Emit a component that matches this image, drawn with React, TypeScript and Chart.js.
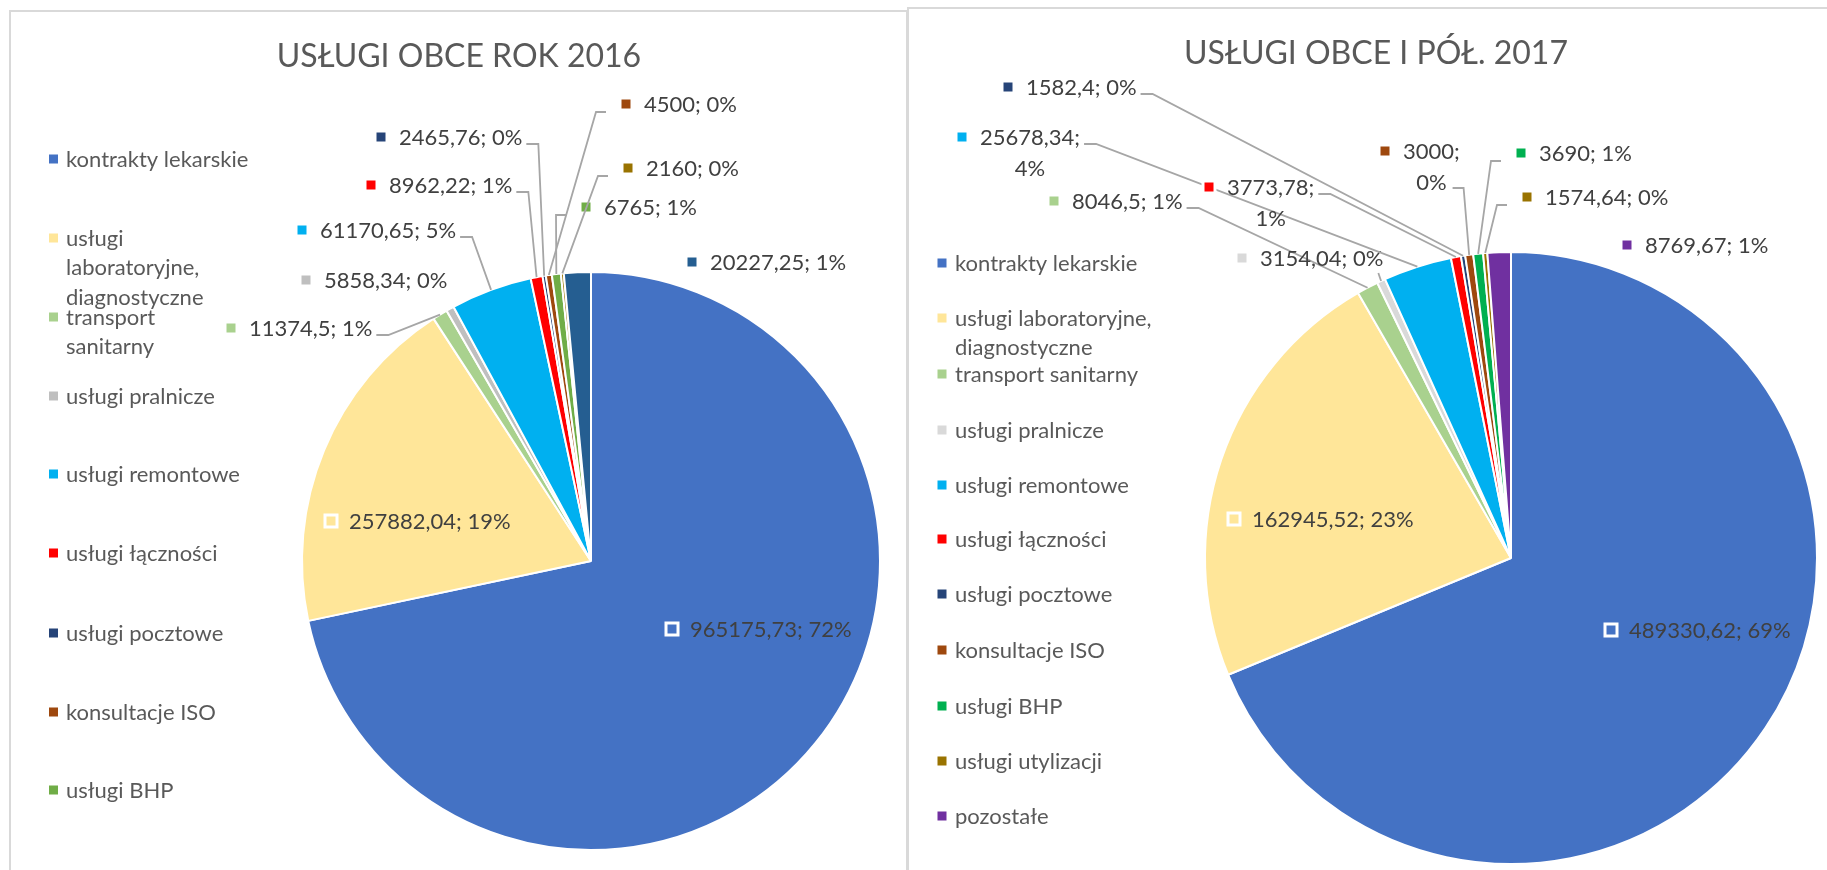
import React, { useEffect, useRef } from "react";
import { Chart, registerables } from "chart.js";

Chart.register(...registerables);

// ---------- DATA ----------
const categories = [
  "kontrakty lekarskie",
  "usługi laboratoryjne, diagnostyczne",
  "transport sanitarny",
  "usługi pralnicze",
  "usługi remontowe",
  "usługi łączności",
  "usługi pocztowe",
  "konsultacje ISO",
  "usługi BHP",
  "usługi utylizacji",
  "pozostałe",
];

const values2016 = [965175.73, 257882.04, 11374.5, 5858.34, 61170.65, 8962.22, 2465.76, 4500, 6765, 2160, 20227.25];
const percents2016 = ["72%", "19%", "1%", "0%", "5%", "1%", "0%", "0%", "1%", "0%", "1%"];

const values2017 = [489330.62, 162945.52, 8046.5, 3154.04, 25678.34, 3773.78, 1582.4, 3000, 3690, 1574.64, 8769.67];
const percents2017 = ["69%", "23%", "1%", "0%", "4%", "1%", "0%", "0%", "1%", "0%", "1%"];

const title2016 = "USŁUGI OBCE ROK 2016";
const title2017 = "USŁUGI OBCE I PÓŁ. 2017";

// ---------- STYLE / LAYOUT ----------
const colors2016 = ["#4472C4", "#FFE699", "#A9D18E", "#BFBFBF", "#00B0F0", "#FF0000", "#264478", "#9E480E", "#70AD47", "#997300", "#255E91"];
const colors2017 = ["#4472C4", "#FFE699", "#A9D18E", "#D9D9D9", "#00B0F0", "#FF0000", "#264478", "#9E480E", "#00B050", "#997300", "#7030A0"];

const FONT = "Lato, 'Open Sans', sans-serif";
const LABEL_SIZE = 22;
const LEGEND_SIZE = 22;
const TITLE_SIZE = 32;
const W = 1827;
const H = 870;

type LabelPos = { x: number; y: number; leader?: "r" | "r2" | "l" | "b"; wrap?: boolean };

const labels2016: LabelPos[] = [
  { x: 672, y: 629 },
  { x: 331, y: 521 },
  { x: 231, y: 328, leader: "r" },
  { x: 306, y: 280 },
  { x: 302, y: 230, leader: "r" },
  { x: 371, y: 185, leader: "r" },
  { x: 381, y: 137, leader: "r" },
  { x: 626, y: 104, leader: "l" },
  { x: 586, y: 207, leader: "l" },
  { x: 628, y: 168, leader: "l" },
  { x: 692, y: 262 },
];

const labels2017: LabelPos[] = [
  { x: 1611, y: 630 },
  { x: 1234, y: 519 },
  { x: 1054, y: 201, leader: "r" },
  { x: 1242, y: 258, leader: "b" },
  { x: 962, y: 137, leader: "r", wrap: true },
  { x: 1209, y: 187, leader: "r", wrap: true },
  { x: 1008, y: 87, leader: "r" },
  { x: 1385, y: 151, leader: "r2", wrap: true },
  { x: 1521, y: 153, leader: "l" },
  { x: 1527, y: 197, leader: "l" },
  { x: 1627, y: 245 },
];

type ChartCfg = {
  values: number[];
  percents: string[];
  colors: string[];
  title: string;
  titleX: number;
  titleY: number;
  labels: LabelPos[];
  legendCount: number;
  legendY: number[];
  legendWrap: (number[] | null)[];
  legendLineH: number;
  legendMarkerX: number;
  legendTextX: number;
  cx: number;
  cy: number;
  r: number;
};

const cfg2016: ChartCfg = {
  values: values2016,
  percents: percents2016,
  colors: colors2016,
  title: title2016,
  titleX: 459,
  titleY: 67,
  labels: labels2016,
  legendCount: 9,
  legendY: [159, 238, 317, 396, 474, 553, 633, 712, 790],
  legendWrap: [null, [1, 1, 1], [1, 1], null, null, null, null, null, null],
  legendLineH: 29.5,
  legendMarkerX: 53.5,
  legendTextX: 66,
  cx: 591,
  cy: 561,
  r: 289,
};

const cfg2017: ChartCfg = {
  values: values2017,
  percents: percents2017,
  colors: colors2017,
  title: title2017,
  titleX: 1376,
  titleY: 64,
  labels: labels2017,
  legendCount: 11,
  legendY: [263, 318, 374, 430, 485, 539, 594, 650, 706, 761, 816],
  legendWrap: [null, [2, 1], null, null, null, null, null, null, null, null, null],
  legendLineH: 29,
  legendMarkerX: 942,
  legendTextX: 955,
  cx: 1511,
  cy: 558,
  r: 306,
};

const fmt = (v: number) => String(v).replace(".", ",");

function wrapWords(name: string, counts: number[] | null): string[] {
  if (!counts) return [name];
  const words = name.split(" ");
  const out: string[] = [];
  let k = 0;
  for (const c of counts) {
    out.push(words.slice(k, k + c).join(" "));
    k += c;
  }
  return out;
}

function makeDecorPlugin(cfg: ChartCfg) {
  return {
    id: "excelDecor",
    afterDatasetsDraw(chart: any) {
      const ctx: CanvasRenderingContext2D = chart.ctx;
      const meta = chart.getDatasetMeta(0);
      ctx.save();

      // Title
      ctx.font = `${TITLE_SIZE}px ${FONT}`;
      ctx.fillStyle = "#595959";
      ctx.textAlign = "center";
      ctx.textBaseline = "alphabetic";
      ctx.fillText(cfg.title, cfg.titleX, cfg.titleY);

      // Legend
      ctx.font = `${LEGEND_SIZE}px ${FONT}`;
      ctx.textAlign = "left";
      const lOff = LEGEND_SIZE * 0.36;
      for (let i = 0; i < cfg.legendCount; i++) {
        const lines = wrapWords(categories[i], cfg.legendWrap[i]);
        const y0 = cfg.legendY[i];
        ctx.fillStyle = cfg.colors[i];
        ctx.fillRect(cfg.legendMarkerX - 4.5, y0 - 4.5, 9, 9);
        ctx.fillStyle = "#595959";
        lines.forEach((ln, j) => {
          ctx.fillText(ln, cfg.legendTextX, y0 + j * cfg.legendLineH + lOff);
        });
      }

      // Data labels
      ctx.font = `${LABEL_SIZE}px ${FONT}`;
      const off = LABEL_SIZE * 0.36;
      const LINE2 = 31;
      for (let i = 0; i < cfg.values.length; i++) {
        const lp = cfg.labels[i];
        const valStr = fmt(cfg.values[i]);
        const lines = lp.wrap ? [valStr + ";", cfg.percents[i]] : [valStr + "; " + cfg.percents[i]];
        const tx = lp.x + 18;
        const w0 = ctx.measureText(lines[0]).width;

        if (lp.leader) {
          const arc = meta.data[i];
          const p = arc.getProps(["x", "y", "startAngle", "endAngle", "outerRadius"], true);
          const a = (p.startAngle + p.endAngle) / 2;
          const px = p.x + Math.cos(a) * p.outerRadius;
          const py = p.y + Math.sin(a) * p.outerRadius;
          let sx = 0, ex = 0, sy = 0;
          if (lp.leader === "r") {
            sx = tx + w0 + 4;
            ex = sx + 12;
            sy = lp.y + 7;
          } else if (lp.leader === "r2") {
            const w1 = ctx.measureText(lines[1]).width;
            sx = tx + w0 / 2 + w1 / 2 + 6;
            ex = sx + 11;
            sy = lp.y + LINE2 + 6;
          } else if (lp.leader === "l") {
            sx = lp.x - 20;
            ex = lp.x - 30;
            sy = lp.y + 8;
          } else {
            sx = tx + w0 - 5;
            ex = sx;
            sy = lp.y + 15;
          }
          ctx.strokeStyle = "#A6A6A6";
          ctx.lineWidth = 1.8;
          ctx.beginPath();
          ctx.moveTo(sx, sy);
          ctx.lineTo(ex, sy);
          ctx.lineTo(px, py);
          ctx.stroke();
        }

        // marker
        ctx.fillStyle = cfg.colors[i];
        ctx.fillRect(lp.x - 6, lp.y - 6, 12, 12);
        ctx.strokeStyle = "#FFFFFF";
        ctx.lineWidth = 3;
        ctx.strokeRect(lp.x - 6, lp.y - 6, 12, 12);

        ctx.fillStyle = "#404040";
        ctx.textAlign = "left";
        ctx.fillText(lines[0], tx, lp.y + off);
        if (lines[1]) {
          ctx.textAlign = "center";
          ctx.fillText(lines[1], tx + w0 / 2, lp.y + LINE2 + off);
        }
      }
      ctx.restore();
    },
  };
}

function PieCanvas({ cfg }: { cfg: ChartCfg }) {
  const ref = useRef<HTMLCanvasElement>(null);
  useEffect(() => {
    if (!ref.current) return;
    const half = cfg.r + 1;
    const chart = new Chart(ref.current, {
      type: "pie",
      data: {
        labels: categories,
        datasets: [
          {
            data: cfg.values,
            backgroundColor: cfg.colors,
            borderColor: "#FFFFFF",
            borderWidth: 2,
          },
        ],
      },
      options: {
        responsive: false,
        animation: false,
        devicePixelRatio: 1,
        layout: {
          padding: {
            left: cfg.cx - half,
            right: W - (cfg.cx + half),
            top: cfg.cy - half,
            bottom: H - (cfg.cy + half),
          },
        },
        plugins: {
          legend: { display: false },
          tooltip: { enabled: false },
          title: { display: false },
        },
        events: [],
      },
      plugins: [makeDecorPlugin(cfg)],
    } as any);
    return () => chart.destroy();
  }, [cfg]);
  return (
    <canvas
      ref={ref}
      width={W}
      height={H}
      style={{ position: "absolute", left: 0, top: 0, width: W, height: H }}
    />
  );
}

export default function App() {
  return (
    <div
      style={{
        position: "absolute",
        left: 0,
        top: 0,
        width: W,
        height: H,
        overflow: "hidden",
        background: "#FFFFFF",
      }}
    >
      <div
        style={{
          position: "absolute",
          left: 9,
          top: 10,
          width: 895,
          height: 900,
          borderLeft: "2px solid #D9D9D9",
          borderTop: "2px solid #D9D9D9",
          borderRight: "3px solid #D9D9D9",
        }}
      />
      <div
        style={{
          position: "absolute",
          left: 907,
          top: 7,
          width: 950,
          height: 900,
          borderLeft: "2px solid #D9D9D9",
          borderTop: "2px solid #D9D9D9",
        }}
      />
      <PieCanvas cfg={cfg2016} />
      <PieCanvas cfg={cfg2017} />
    </div>
  );
}
